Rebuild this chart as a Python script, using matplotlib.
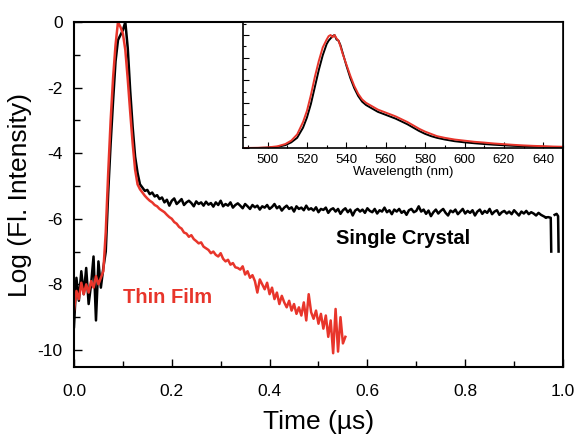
import numpy as np
import matplotlib
matplotlib.use("Agg")
import matplotlib.pyplot as plt
from matplotlib.ticker import MultipleLocator

plt.rcParams["font.family"] = ["Liberation Sans", "DejaVu Sans"]

# ---------------------------------------------------------------------------
# Data (log fluorescence decay, 5 ns sampling)
# ---------------------------------------------------------------------------
time_step = 0.005  # us

crystal_log = [
    # 0.000 - 0.060
    -9.3, -7.8, -8.5, -7.6, -8.3, -7.5, -8.6, -8.0, -7.15, -9.1, -7.3, -8.1, -7.5,
    # 0.065 - 0.135
    -7.0, -5.2, -3.7, -2.4, -1.2, -0.55, -0.4, -0.25, 0.0, -0.8, -2.1, -3.2, -4.1, -4.6, -4.95,
    # 0.140 - 0.965
    -5.05, -5.15, -5.12, -5.25, -5.2, -5.32, -5.28, -5.4, -5.35, -5.5,
    -5.42, -5.6, -5.45, -5.38, -5.55, -5.48, -5.4, -5.58, -5.5, -5.45,
    -5.52, -5.62, -5.47, -5.55, -5.5, -5.6, -5.48, -5.57, -5.52, -5.63,
    -5.5, -5.58, -5.45, -5.62, -5.55, -5.6, -5.5, -5.66, -5.58, -5.53,
    -5.6, -5.68, -5.55, -5.62, -5.7, -5.58, -5.65, -5.6, -5.72, -5.62,
    -5.66, -5.58, -5.7, -5.64, -5.55, -5.68, -5.62, -5.75, -5.66, -5.6,
    -5.7, -5.65, -5.78, -5.62, -5.7, -5.66, -5.74, -5.6, -5.72, -5.68,
    -5.75, -5.65, -5.8, -5.7, -5.73, -5.66, -5.82, -5.72, -5.68, -5.78,
    -5.7, -5.85, -5.74, -5.68, -5.8, -5.72, -5.9, -5.75, -5.7, -5.78,
    -5.72, -5.82, -5.68, -5.76, -5.8, -5.7, -5.84, -5.74, -5.78, -5.66,
    -5.8, -5.74, -5.86, -5.72, -5.78, -5.7, -5.82, -5.76, -5.88, -5.74,
    -5.7, -5.8, -5.76, -5.62, -5.78, -5.72, -5.85, -5.75, -5.92, -5.8,
    -5.72, -5.84, -5.76, -5.7, -5.82, -5.9, -5.75, -5.8, -5.72, -5.86,
    -5.78, -5.7, -5.84, -5.76, -5.82, -5.74, -5.9, -5.78, -5.72, -5.85,
    -5.76, -5.82, -5.7, -5.86, -5.78, -5.74, -5.88, -5.8, -5.76, -5.84,
    -5.78, -5.86, -5.74, -5.82, -5.9, -5.78, -5.84, -5.76, -5.86, -5.8,
    -5.84, -5.9, -5.82, -5.88, -5.92, -5.96,
]

# end of the crystal record (detector cut-off)
crystal_end_t = [0.965, 0.970, 0.975, 0.976, np.nan, 0.983, 0.987, 0.990, 0.991]
crystal_end_log = [-5.96, -5.95, -5.97, -7.0, np.nan, -5.88, -5.85, -5.92, -7.0]

film_log = [
    # 0.000 - 0.060
    -8.8, -8.2, -8.45, -7.95, -8.3, -8.0, -8.25, -7.9, -8.1, -7.75, -8.0, -7.8, -7.6,
    # 0.065 - 0.135
    -6.4, -4.6, -3.0, -1.7, -0.7, 0.0, -0.15, -0.35, -0.85, -1.75, -2.75, -3.7, -4.5, -4.95, -5.1,
    # 0.140 - 0.555
    -5.2, -5.3, -5.38, -5.45, -5.5, -5.58, -5.62, -5.7, -5.75, -5.8,
    -5.88, -5.95, -6.0, -6.1, -6.15, -6.25, -6.3, -6.42, -6.45, -6.55,
    -6.5, -6.62, -6.68, -6.75, -6.72, -6.85, -6.9, -6.95, -7.05, -7.0,
    -7.1, -7.15, -7.05, -7.22, -7.3, -7.25, -7.4, -7.35, -7.48, -7.5,
    -7.55, -7.45, -7.7, -7.6, -7.8, -7.72, -7.9, -8.25, -7.85, -8.0,
    -8.15, -7.95, -8.3, -8.1, -8.45, -8.25, -8.6, -8.35, -8.55, -8.7,
    -8.5, -8.8, -8.6, -8.9, -8.7, -8.95, -8.55, -9.1, -8.3, -8.85,
    -9.05, -8.8, -9.2, -8.9, -9.35, -8.95, -9.6, -9.1, -10.1, -8.75,
    -10.05, -9.0, -9.8, -9.6,
]

# Inset: normalised emission spectra
wl_film = [488, 495, 500, 505, 509, 512, 515, 518, 520, 522, 524, 526, 528, 530,
           531, 532, 533, 534, 535, 536, 537, 538, 540, 542, 544, 546, 548, 550,
           553, 556, 559, 562, 565, 568, 571, 574, 577, 580, 583, 586, 590, 595,
           600, 605, 610, 615, 620, 625, 630, 635, 640, 645, 650]
pl_film = [0.0, 0.002, 0.005, 0.015, 0.035, 0.065, 0.12, 0.23, 0.33, 0.47, 0.63,
           0.77, 0.89, 0.96, 0.99, 1.0, 0.98, 1.0, 0.97, 0.95, 0.9, 0.84, 0.74,
           0.64, 0.55, 0.48, 0.43, 0.4, 0.37, 0.34, 0.32, 0.3, 0.28, 0.255, 0.23,
           0.2, 0.17, 0.145, 0.125, 0.105, 0.09, 0.075, 0.065, 0.055, 0.048, 0.04,
           0.034, 0.028, 0.023, 0.019, 0.016, 0.013, 0.011]

wl_crystal = [488, 495, 500, 505, 509, 512, 515, 518, 520, 522, 524, 526, 528, 530,
              531, 532, 533, 534, 535, 536, 537, 538, 540, 542, 544, 546, 548, 550,
              553, 556, 559, 562, 565, 568, 571, 574, 577, 580, 583, 586, 590, 595,
              600, 605, 610, 615, 620, 625, 630, 635, 640, 645, 650]
pl_crystal = [0.0, 0.0, 0.003, 0.01, 0.025, 0.05, 0.09, 0.18, 0.27, 0.39, 0.54,
              0.69, 0.82, 0.92, 0.95, 0.97, 0.99, 1.0, 0.96, 0.95, 0.91, 0.85, 0.73,
              0.62, 0.53, 0.46, 0.41, 0.38, 0.35, 0.32, 0.3, 0.28, 0.26, 0.235, 0.21,
              0.18, 0.15, 0.125, 0.105, 0.09, 0.075, 0.06, 0.05, 0.042, 0.035, 0.029,
              0.024, 0.019, 0.016, 0.013, 0.011, 0.009, 0.007]

RED = "#e8352b"
BLACK = "#000000"

t_crystal = np.arange(len(crystal_log)) * time_step
t_film = np.arange(len(film_log)) * time_step

# ---------------------------------------------------------------------------
# Figure
# ---------------------------------------------------------------------------
fig = plt.figure(figsize=(5.77, 4.41), dpi=100)
ax = fig.add_axes([0.1282, 0.1678, 0.8475, 0.7823])

ax.plot(t_crystal, crystal_log, color=BLACK, lw=1.8)
ax.plot(crystal_end_t, crystal_end_log, color=BLACK, lw=1.8)
ax.plot(t_film, film_log, color=RED, lw=1.8)

ax.set_xlim(0, 1.0)
ax.set_ylim(-10.52, 0)
ax.xaxis.set_major_locator(MultipleLocator(0.2))
ax.xaxis.set_minor_locator(MultipleLocator(0.1))
ax.yaxis.set_major_locator(MultipleLocator(2))
ax.yaxis.set_minor_locator(MultipleLocator(1))
ax.xaxis.set_major_formatter(plt.FuncFormatter(lambda v, p: f"{v:.1f}"))
ax.yaxis.set_major_formatter(plt.FuncFormatter(lambda v, p: f"{v:.0f}"))
ax.tick_params(which="both", direction="in", labelsize=12.5, width=1.0)
ax.tick_params(which="major", length=6)
ax.tick_params(axis="x", which="major", pad=12)
ax.tick_params(axis="y", which="major", pad=8)
ax.tick_params(which="minor", length=4)
for s in ax.spines.values():
    s.set_linewidth(1.5)

ax.set_xlabel("Time (\u00b5s)", fontsize=19, labelpad=8)
ax.set_ylabel("Log (Fl. Intensity)", fontsize=19, labelpad=4)

ax.text(0.673, -6.6, "Single Crystal", color=BLACK, fontsize=14.5,
        fontweight="bold", ha="center", va="center")
ax.text(0.192, -8.4, "Thin Film", color=RED, fontsize=14.5,
        fontweight="bold", ha="center", va="center")

# Inset spectrum
axin = fig.add_axes([0.4211, 0.6644, 0.5546, 0.2857])
axin.plot(wl_crystal, pl_crystal, color=BLACK, lw=1.4)
axin.plot(wl_film, pl_film, color=RED, lw=1.4)
axin.set_xlim(487.5, 650)
axin.set_ylim(0, 1.115)
axin.xaxis.set_major_locator(MultipleLocator(20))
axin.xaxis.set_minor_locator(MultipleLocator(10))
axin.yaxis.set_major_locator(MultipleLocator(0.2))
axin.yaxis.set_minor_locator(MultipleLocator(0.1))
axin.tick_params(which="both", direction="in", labelsize=9.5, width=0.8)
axin.tick_params(which="major", length=4, pad=4)
axin.tick_params(which="minor", length=2)
axin.tick_params(axis="y", labelleft=False)
axin.set_xlabel("Wavelength (nm)", fontsize=9.5, labelpad=0)
for s in axin.spines.values():
    s.set_linewidth(1.2)

fig.savefig("out.png", dpi=100)
